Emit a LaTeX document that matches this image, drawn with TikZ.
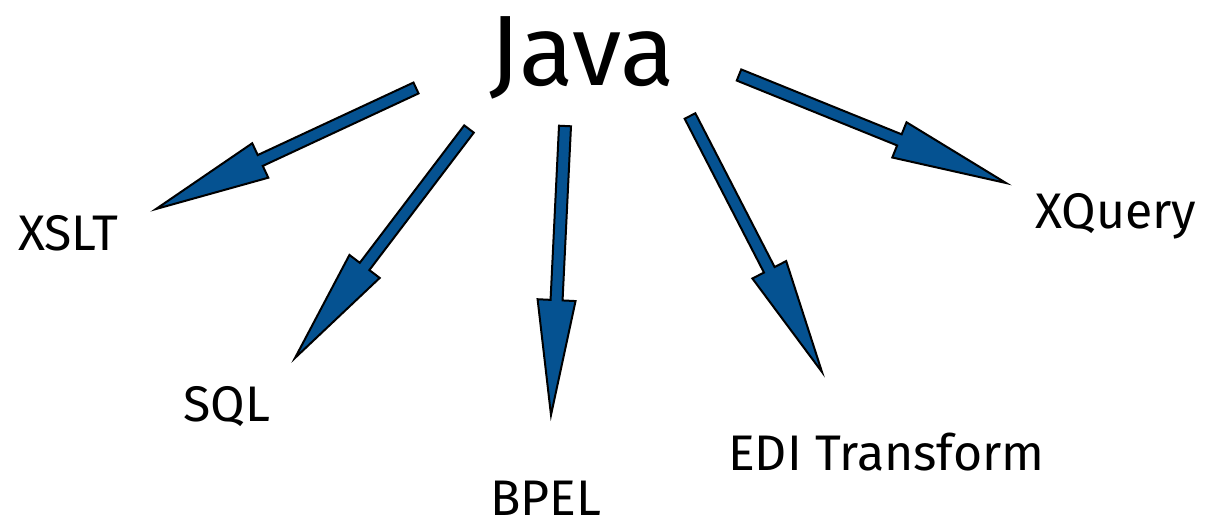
\documentclass[tikz,border=0pt]{standalone}
\usepackage{fontspec}
\setmainfont{Fira Sans}
\usetikzlibrary{calc}
\definecolor{arrowblue}{RGB}{5,82,145}
\tikzset{
  fatarrow/.style={fill=arrowblue,draw=black,line width=2pt,line join=miter},
  label/.style={inner sep=0pt,anchor=base west,font=\fontsize{50}{58}\selectfont},
  title/.style={inner sep=0pt,anchor=base west,font=\fontsize{100}{110}\selectfont}
}
\newcommand\fatarrowdraw[2]{%
  \coordinate (#1-h) at ($(#2)!115pt!(#1)$);
  \draw[fatarrow] ($(#1)!6pt!90:(#2)$) -- ($(#1-h)!6pt!90:(#2)$) -- ($(#1-h)!19pt!90:(#2)$) -- (#2)
    -- ($(#1-h)!19pt!-90:(#2)$) -- ($(#1-h)!6pt!-90:(#2)$) -- ($(#1)!6pt!-90:(#2)$) -- cycle;
}
\begin{document}
\begin{tikzpicture}[x=1pt,y=-1pt]
\useasboundingbox (0,0) rectangle (1208,528);
\node[title] (java) at (489,85) {Java};
\node[label] (xslt) at (18,250) {XSLT};
\node[label] (sql) at (183,421) {SQL};
\node[label] (bpel) at (490,515) {BPEL};
\node[label] (edi) at (728,470) {EDI Transform};
\node[label] (xquery) at (1035,228) {XQuery};
% arrow ends
\coordinate (s1) at (416,88);  \coordinate (t1) at (156,209);
\coordinate (s2) at (469,129); \coordinate (t2) at (295,358);
\coordinate (s3) at (565,126); \coordinate (t3) at (551,415);
\coordinate (s4) at (690,116); \coordinate (t4) at (822,372);
\coordinate (s5) at (739,75);  \coordinate (t5) at (1006,183);
\fatarrowdraw{s1}{t1}
\fatarrowdraw{s2}{t2}
\fatarrowdraw{s3}{t3}
\fatarrowdraw{s4}{t4}
\fatarrowdraw{s5}{t5}
\end{tikzpicture}
\end{document}
